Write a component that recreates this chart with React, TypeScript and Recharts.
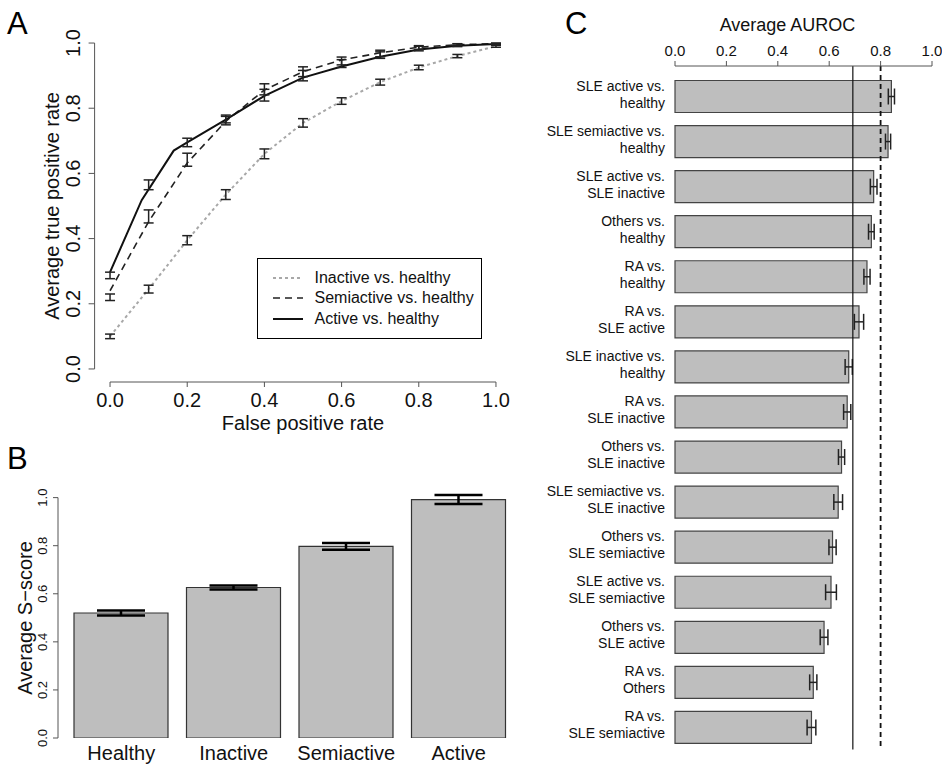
import React from 'react';
import { LineChart, Line, BarChart, Bar, XAxis, YAxis, ErrorBar, ReferenceLine, Legend, Label } from 'recharts';

const FONT = '"Liberation Sans", Arial, Helvetica, sans-serif';
const AXIS = '#555';
const INK = '#111';

// ---- Panel A: averaged ROC curves ----
const fprPoints = [0, 0.1, 0.2, 0.3, 0.4, 0.5, 0.6, 0.7, 0.8, 0.9, 1.0];
const inactiveTpr = [0.1, 0.245, 0.395, 0.535, 0.66, 0.755, 0.822, 0.88, 0.925, 0.96, 0.99];
const inactiveErr = [0.007, 0.012, 0.014, 0.015, 0.015, 0.013, 0.01, 0.009, 0.007, 0.005, 0.003];
const semiactiveTpr = [0.22, 0.468, 0.642, 0.762, 0.858, 0.912, 0.945, 0.968, 0.986, 0.995, 0.998];
const semiactiveErr = [0.01, 0.02, 0.02, 0.013, 0.017, 0.015, 0.012, 0.01, 0.006, 0.003, 0.002];
const activeTpr = [0.287, 0.565, 0.695, 0.767, 0.84, 0.9, 0.937, 0.963, 0.983, 0.993, 0.997];
const activeErr = [0.01, 0.015, 0.013, 0.012, 0.018, 0.016, 0.012, 0.01, 0.007, 0.004, 0.002];

// curve vertices (the averaged curves have extra corners near the origin)
const semiCurveTpr = [0.24, 0.452, 0.632, 0.76, 0.856, 0.912, 0.948, 0.97, 0.987, 0.995, 0.998];
const activeCurveFpr = [0, 0.082, 0.165, 0.2, 0.3, 0.4, 0.5, 0.6, 0.7, 0.8, 0.9, 1.0];
const activeCurveTpr = [0.297, 0.518, 0.67, 0.695, 0.765, 0.838, 0.894, 0.928, 0.958, 0.98, 0.992, 0.997];

const seriesNames = ['Inactive vs. healthy', 'Semiactive vs. healthy', 'Active vs. healthy'];
const seriesStyles = [
  { stroke: '#a8a8a8', dash: '3 3', width: 2 },
  { stroke: '#222', dash: '7 5', width: 1.6 },
  { stroke: '#111', dash: undefined, width: 2 },
];

// ---- Panel B: S-score per group ----
const groups = ['Healthy', 'Inactive', 'Semiactive', 'Active'];
const sScore = [0.52, 0.626, 0.797, 0.992];
const sScoreErr = [0.01, 0.008, 0.014, 0.019];

// ---- Panel C: AUROC per comparison ----
const comparisons = [
  'SLE active vs. healthy',
  'SLE semiactive vs. healthy',
  'SLE active vs. SLE inactive',
  'Others vs. healthy',
  'RA vs. healthy',
  'RA vs. SLE active',
  'SLE inactive vs. healthy',
  'RA vs. SLE inactive',
  'Others vs. SLE inactive',
  'SLE semiactive vs. SLE inactive',
  'Others vs. SLE semiactive',
  'SLE active vs. SLE semiactive',
  'Others vs. SLE active',
  'RA vs. Others',
  'RA vs. SLE semiactive',
];
const auroc = [0.842, 0.829, 0.773, 0.764, 0.747, 0.716, 0.676, 0.67, 0.648, 0.635, 0.613, 0.607, 0.58, 0.538, 0.531];
const aurocErr = [0.012, 0.01, 0.013, 0.011, 0.012, 0.018, 0.014, 0.014, 0.012, 0.017, 0.014, 0.021, 0.015, 0.014, 0.017];
const aurocCutoffs = [0.692, 0.8];

const unitTicks = [0, 0.2, 0.4, 0.6, 0.8, 1.0];

const toPoints = (xs: number[], ys: number[], es?: number[]) =>
  xs.map((x, i) => ({ fpr: x, tpr: ys[i], err: es ? es[i] : 0 }));

const inactiveCurve = toPoints(fprPoints, inactiveTpr);
const semiCurve = toPoints(fprPoints, semiCurveTpr);
const activeCurve = toPoints(activeCurveFpr, activeCurveTpr);
const errorSets = [
  toPoints(fprPoints, inactiveTpr, inactiveErr),
  toPoints(fprPoints, semiactiveTpr, semiactiveErr),
  toPoints(fprPoints, activeTpr, activeErr),
];
const curves = [inactiveCurve, semiCurve, activeCurve];

const groupData = groups.map((g, i) => ({ group: g, score: sScore[i], err: sScoreErr[i] }));
const aurocData = comparisons.map((c, i) => ({ name: c, auc: auroc[i], err: aurocErr[i] }));

// ---- ticks ----
const ATickX = ({ x, y, payload }: any) => (
  <text x={x} y={y + 20} textAnchor="middle" fontSize={20} fill={INK} fontFamily={FONT}>
    {Number(payload.value).toFixed(1)}
  </text>
);
const ATickY = ({ x, y, payload }: any) => (
  <text x={x - 9} y={y} transform={`rotate(-90 ${x - 9} ${y})`} textAnchor="middle" fontSize={20} fill={INK} fontFamily={FONT}>
    {Number(payload.value).toFixed(1)}
  </text>
);
const BTickX = ({ x, y, payload }: any) => (
  <text x={x} y={y + 22} textAnchor="middle" fontSize={20} fill={INK} fontFamily={FONT}>
    {payload.value}
  </text>
);
const BTickY = ({ x, y, payload }: any) => (
  <text x={x - 6} y={y} transform={`rotate(-90 ${x - 6} ${y})`} textAnchor="middle" fontSize={13} fill={INK} fontFamily={FONT}>
    {Number(payload.value).toFixed(1)}
  </text>
);
const CTickX = ({ x, y, payload }: any) => (
  <text x={x} y={y - 5} textAnchor="middle" fontSize={15} fill={INK} fontFamily={FONT}>
    {Number(payload.value).toFixed(1)}
  </text>
);
const CTickY = ({ x, y, payload }: any) => {
  const label = String(payload.value);
  const cut = label.indexOf('vs.') + 3;
  return (
    <text textAnchor="end" fontSize={14} fill={INK} fontFamily={FONT}>
      <tspan x={x} y={y - 5.5}>{label.slice(0, cut)}</tspan>
      <tspan x={x} y={y + 11.5}>{label.slice(cut + 1)}</tspan>
    </text>
  );
};

const renderLegendA = () => (
  <div
    style={{
      width: 225,
      height: 81,
      border: '1.5px solid #000',
      boxSizing: 'border-box',
      background: '#fff',
      position: 'relative',
      fontFamily: FONT,
      fontSize: 16,
      color: INK,
    }}
  >
    {seriesNames.map((name, i) => (
      <div
        key={name}
        style={{ position: 'absolute', left: 13.5, top: 7.5 + i * 20.5, height: 22, display: 'flex', alignItems: 'center', whiteSpace: 'nowrap' }}
      >
        <svg width={32} height={6}>
          <line x1={1} y1={3} x2={31} y2={3} stroke={seriesStyles[i].stroke} strokeWidth={seriesStyles[i].width} strokeDasharray={seriesStyles[i].dash} />
        </svg>
        <span style={{ marginLeft: 11 }}>{name}</span>
      </div>
    ))}
  </div>
);

const PanelA = () => (
  <LineChart width={520} height={440} margin={{ top: 30, right: 8.6, bottom: 28, left: 34.6 }}>
    <XAxis
      type="number"
      dataKey="fpr"
      domain={[-0.04, 1.04]}
      ticks={unitTicks}
      interval={0}
      allowDataOverflow
      height={30}
      tickSize={5}
      tickMargin={0}
      axisLine={false}
      tickLine={{ stroke: AXIS }}
      tick={<ATickX />}
    >
      <Label
        content={({ viewBox }: any) => (
          <text x={viewBox.x + viewBox.width / 2} y={viewBox.y + 48} textAnchor="middle" fontSize={20} fill={INK} fontFamily={FONT}>
            False positive rate
          </text>
        )}
      />
    </XAxis>
    <YAxis
      type="number"
      dataKey="tpr"
      domain={[-0.04, 1.04]}
      ticks={unitTicks}
      interval={0}
      allowDataOverflow
      width={60}
      tickSize={6}
      tickMargin={0}
      axisLine={false}
      tickLine={{ stroke: AXIS }}
      tick={<ATickY />}
    >
      <Label
        content={({ viewBox }: any) => {
          const cx = viewBox.x + viewBox.width - 42.6;
          const cy = viewBox.y + viewBox.height / 2;
          return (
            <text x={cx} y={cy} transform={`rotate(-90 ${cx} ${cy})`} textAnchor="middle" dominantBaseline="central" fontSize={20} fill={INK} fontFamily={FONT}>
              Average true positive rate
            </text>
          );
        }}
      />
    </YAxis>
    <ReferenceLine segment={[{ x: -0.04, y: 0 }, { x: -0.04, y: 1 }]} stroke={AXIS} ifOverflow="visible" />
    <ReferenceLine segment={[{ x: 0, y: -0.04 }, { x: 1, y: -0.04 }]} stroke={AXIS} ifOverflow="visible" />
    {curves.map((data, i) => (
      <Line
        key={seriesNames[i]}
        name={seriesNames[i]}
        data={data}
        dataKey="tpr"
        type="linear"
        stroke={seriesStyles[i].stroke}
        strokeWidth={seriesStyles[i].width}
        strokeDasharray={seriesStyles[i].dash}
        dot={false}
        activeDot={false}
        isAnimationActive={false}
      />
    ))}
    {errorSets.map((data, i) => (
      <Line
        key={'err-' + i}
        data={data}
        dataKey="tpr"
        stroke="none"
        dot={false}
        activeDot={false}
        legendType="none"
        isAnimationActive={false}
      >
        <ErrorBar dataKey="err" direction="y" width={5} stroke="#222" strokeWidth={1.5} />
      </Line>
    ))}
    <Legend
      layout="vertical"
      align="center"
      verticalAlign="middle"
      wrapperStyle={{ left: 257, top: 258, width: 225, height: 81 }}
      content={renderLegendA}
    />
  </LineChart>
);

const PanelB = () => (
  <BarChart width={540} height={326} data={groupData} margin={{ top: 48, right: 17, bottom: 8, left: 18 }}>
    <XAxis
      dataKey="group"
      type="category"
      padding={{ left: 7, right: 8 }}
      interval={0}
      height={20}
      tickSize={0}
      tickMargin={0}
      axisLine={false}
      tickLine={false}
      tick={<BTickX />}
    />
    <XAxis xAxisId="frame" type="number" domain={[0, 1]} hide />
    <YAxis
      type="number"
      domain={[0, 1.04]}
      ticks={unitTicks}
      interval={0}
      allowDataOverflow
      width={40}
      tickSize={5}
      tickMargin={0}
      axisLine={false}
      tickLine={{ stroke: AXIS }}
      tick={<BTickY />}
    >
      <Label
        content={({ viewBox }: any) => {
          const cx = viewBox.x + viewBox.width - 33;
          const cy = viewBox.y + viewBox.height / 2 + 5;
          return (
            <text x={cx} y={cy} transform={`rotate(-90 ${cx} ${cy})`} textAnchor="middle" dominantBaseline="central" fontSize={20} fill={INK} fontFamily={FONT}>
              Average S−score
            </text>
          );
        }}
      />
    </YAxis>
    <ReferenceLine xAxisId="frame" segment={[{ x: 0, y: 0 }, { x: 0, y: 1 }]} stroke={AXIS} ifOverflow="visible" />
    <Bar dataKey="score" fill="#bebebe" stroke="#333" strokeWidth={1.2} barSize={94} isAnimationActive={false}>
      <ErrorBar dataKey="err" direction="y" width={24} stroke="#000" strokeWidth={2.5} />
    </Bar>
  </BarChart>
);

const PanelC = () => (
  <BarChart layout="vertical" width={412} height={766} data={aurocData} margin={{ top: 26, right: 10, bottom: 16.5, left: 0 }}>
    <XAxis
      type="number"
      orientation="top"
      domain={[0, 1]}
      ticks={unitTicks}
      interval={0}
      height={40}
      tickSize={5}
      tickMargin={0}
      axisLine={{ stroke: AXIS }}
      tickLine={{ stroke: AXIS }}
      tick={<CTickX />}
    >
      <Label
        content={({ viewBox }: any) => (
          <text x={viewBox.x + viewBox.width / 2 - 16} y={viewBox.y + 5} textAnchor="middle" fontSize={18} fill={INK} fontFamily={FONT}>
            Average AUROC
          </text>
        )}
      />
    </XAxis>
    <YAxis
      type="category"
      dataKey="name"
      width={145}
      padding={{ top: 7.5, bottom: 0 }}
      interval={0}
      tickSize={0}
      tickMargin={10}
      axisLine={false}
      tickLine={false}
      tick={<CTickY />}
    />
    <Bar dataKey="auc" fill="#bebebe" stroke="#444" strokeWidth={1.2} barSize={32} isAnimationActive={false}>
      <ErrorBar dataKey="err" direction="x" width={8} stroke="#222" strokeWidth={1.5} />
    </Bar>
    <ReferenceLine x={aurocCutoffs[0]} stroke={INK} strokeWidth={1.2} />
    <ReferenceLine x={aurocCutoffs[1]} stroke={INK} strokeWidth={1.8} strokeDasharray="5 4" />
  </BarChart>
);

const letterStyle: React.CSSProperties = {
  position: 'absolute',
  fontFamily: FONT,
  fontSize: 31,
  lineHeight: '31px',
  color: '#000',
};

export default function App() {
  return (
    <div style={{ position: 'absolute', left: 0, top: 0, width: 942, height: 766, background: '#fff', overflow: 'hidden' }}>
      <div style={{ position: 'absolute', left: 0, top: 0 }}>
        <PanelA />
      </div>
      <div style={{ position: 'absolute', left: 0, top: 440 }}>
        <PanelB />
      </div>
      <div style={{ position: 'absolute', left: 530, top: 0 }}>
        <PanelC />
      </div>
      <div style={{ ...letterStyle, left: 7, top: 8 }}>A</div>
      <div style={{ ...letterStyle, left: 7, top: 443 }}>B</div>
      <div style={{ ...letterStyle, left: 565, top: 8 }}>C</div>
    </div>
  );
}
